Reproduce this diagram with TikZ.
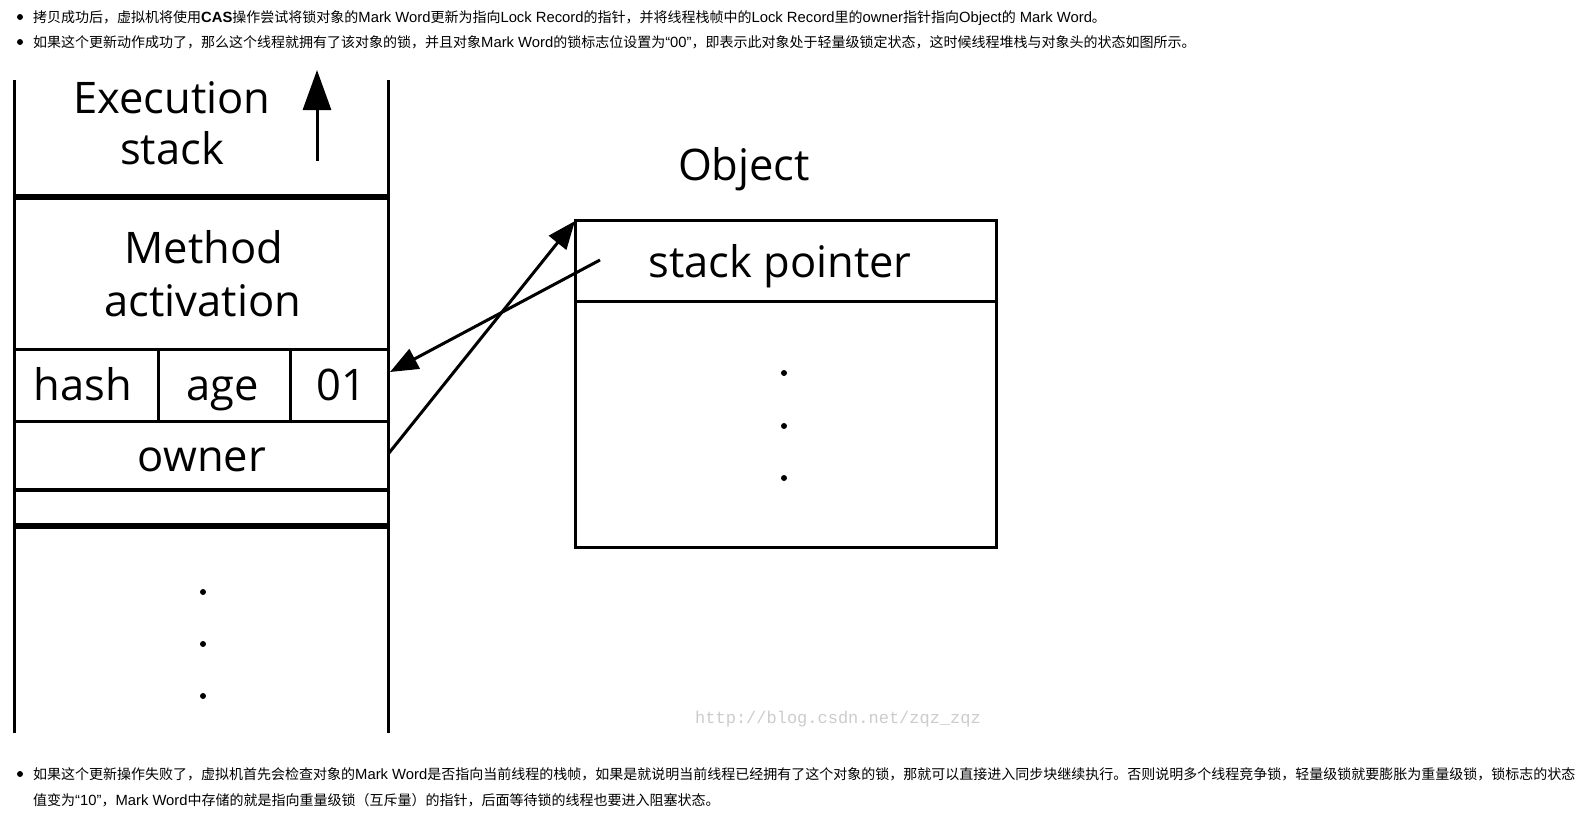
\documentclass[tikz,border=0pt]{standalone}
\usepackage{fontspec}
\setmainfont{Liberation Sans}
\newfontfamily\cjk{Noto Sans CJK SC}
\newfontfamily\diagfont{Open Sans}
\newfontfamily\wmfont{Liberation Mono}
\usetikzlibrary{arrows.meta}
\newcommand\zh[1]{{\fontsize{14}{16}\cjk #1}}
\begin{document}
\begin{tikzpicture}[x=1pt,y=-1pt,
  boxline/.style={line width=3pt},
  heavyline/.style={line width=5.5pt},
  lbl/.style={font=\diagfont\fontsize{43.5}{48}\selectfont, anchor=base, inner sep=0pt},
  para/.style={font=\fontsize{14.8}{16}\selectfont, anchor=base west, inner sep=0pt},
  ptr/.style={line width=3pt, -{Triangle[length=28pt,width=22pt]}},
  dotmark/.style={fill=black}
]
\useasboundingbox (0,0) rectangle (1575,815);
\fill[white] (0,0) rectangle (1575,815);

% --- text paragraphs ---
\fill (20,17) circle (3pt);
\node[para] (p1) at (33,22) {\zh{拷贝成功后，虚拟机将使用}\textbf{CAS}\zh{操作尝试将锁对象的}Mark Word\zh{更新为指向}Lock Record\zh{的指针，并将线程栈帧中的}Lock Record\zh{里的}owner\zh{指针指向}Object\zh{的} Mark Word\zh{。}};
\fill (20,42) circle (3pt);
\node[para] (p2) at (33,47) {\zh{如果这个更新动作成功了，那么这个线程就拥有了该对象的锁，并且对象}Mark Word\zh{的锁标志位设置为}“00”\zh{，即表示此对象处于轻量级锁定状态，这时候线程堆栈与对象头的状态如图所示。}};
\fill (20,774) circle (3pt);
\node[para] (p3) at (33,779) {\zh{如果这个更新操作失败了，虚拟机首先会检查对象的}Mark Word\zh{是否指向当前线程的栈帧，如果是就说明当前线程已经拥有了这个对象的锁，那就可以直接进入同步块继续执行。否则说明多个线程竞争锁，轻量级锁就要膨胀为重量级锁，锁标志的状态}};
\node[para] (p4) at (33,805) {\zh{值变为}“10”\zh{，}Mark Word\zh{中存储的就是指向重量级锁（互斥量）的指针，后面等待锁的线程也要进入阻塞状态。}};

% --- execution stack ---
\draw[boxline] (14,80) -- (14,733);
\draw[boxline] (388,80) -- (388,733);
\draw[heavyline] (14,197) -- (388,197);
\draw[boxline] (14,349) -- (388,349);
\draw[boxline] (14,421) -- (388,421);
\draw[boxline] (158,349) -- (158,421);
\draw[boxline] (290,349) -- (290,421);
\draw[line width=3.5pt] (14,490) -- (388,490);
\draw[heavyline] (14,526) -- (388,526);
\fill[dotmark] (203,592) circle (3pt);
\fill[dotmark] (203,644) circle (3pt);
\fill[dotmark] (203,696) circle (3pt);

\node[lbl] (exec) at (172,113) {Execution};
\node[lbl] (stk) at (172,164) {stack};
\node[lbl] (meth) at (204,263) {Method};
\node[lbl] (act) at (203,316) {activation};
\node[lbl] (hash) at (83,400) {hash};
\node[lbl] (age) at (223,400) {age};
\node[lbl] (bits) at (341,400) {01};
\node[lbl] (owner) at (202,471) {owner};

\coordinate (upT) at (317,161);
\coordinate (upH) at (317,70);
\draw[line width=3pt, -{Triangle[length=40pt,width=28pt]}] (upT) -- (upH);

% --- object ---
\node[lbl] (obj) at (744,180) {Object};
\draw[boxline] (575,220) rectangle (996,547);
\draw[boxline] (575,301) -- (996,301);
\node[lbl] (sp) at (780,277) {stack pointer};
\fill[dotmark] (784,373) circle (3pt);
\fill[dotmark] (784,426) circle (3pt);
\fill[dotmark] (784,478) circle (3pt);

% --- pointers ---
\coordinate (ownerR) at (389,453);
\coordinate (objNW) at (575,221);
\coordinate (spL) at (600,260);
\coordinate (markR) at (390,372);
\draw[ptr] (ownerR) -- (objNW);
\draw[ptr] (spL) -- (markR);

% watermark
\node[font=\wmfont\fontsize{17}{17}\selectfont, text=gray!40, anchor=base west, inner sep=0pt] (wm) at (695,723) {http://blog.csdn.net/zqz\_zqz};
\end{tikzpicture}
\end{document}
